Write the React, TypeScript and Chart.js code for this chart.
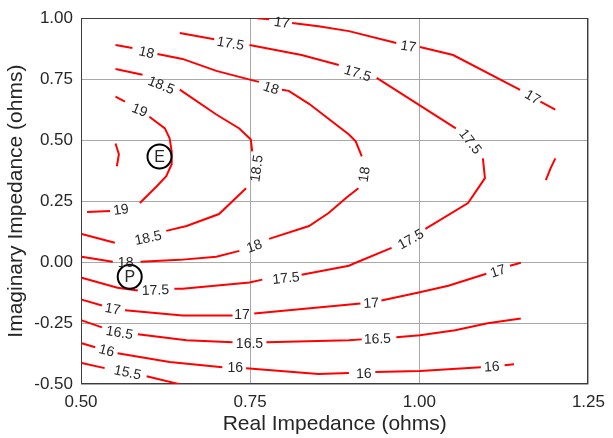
import React, { useEffect, useRef } from "react";
import { Chart, registerables } from "chart.js";
Chart.register(...registerables);

type Pt = [number, number];
type Seg = Pt[];
type Lbl = [string, number, number, number];

const FONT = '"Liberation Sans", Arial, Helvetica, sans-serif';
const TEXT = "#262626";

const xTicks = [0.5, 0.75, 1.0, 1.25];
const yTicks = [-0.5, -0.25, 0, 0.25, 0.5, 0.75, 1.0];

// contour level 17 (upper branch)
const c17Top: Seg[] = [
  [[0.760, 1.000], [0.778, 0.996]],
  [[0.812, 0.980], [0.851, 0.967], [0.896, 0.947], [0.966, 0.898]],
  [[1.001, 0.882], [1.050, 0.849], [1.149, 0.706]],
  [[1.179, 0.658], [1.201, 0.625]],
];
const l17Top: Lbl[] = [
  ["17", 0.797, 0.984, 8],
  ["17", 0.984, 0.886, 9],
  ["17", 1.168, 0.678, 30],
];

// contour level 17.5
const c17_5: Seg[] = [
  [[0.646, 0.939], [0.697, 0.914]],
  [[0.749, 0.890], [0.826, 0.849], [0.881, 0.808]],
  [[0.937, 0.755], [1.054, 0.548]],
  [[1.094, 0.425], [1.097, 0.344], [1.072, 0.242], [1.009, 0.136]],
  [[0.959, 0.058], [0.906, -0.003], [0.896, -0.015], [0.826, -0.052]],
  [[0.768, -0.072], [0.749, -0.084], [0.650, -0.109], [0.638, -0.109]],
  [[0.584, -0.117], [0.554, -0.105], [0.501, -0.064]],
];
const l17_5: Lbl[] = [
  ["17.5", 0.721, 0.898, 10],
  ["17.5", 0.909, 0.776, 17],
  ["17.5", 1.076, 0.495, 52],
  ["17.5", 0.987, 0.095, -29],
  ["17.5", 0.803, -0.064, -6],
  ["17.5", 0.610, -0.113, -2],
];

// contour level 18
const c18: Seg[] = [
  [[0.551, 0.890], [0.576, 0.878]],
  [[0.613, 0.853], [0.650, 0.833], [0.700, 0.784], [0.751, 0.747], [0.763, 0.739]],
  [[0.797, 0.707], [0.807, 0.702], [0.837, 0.649], [0.896, 0.523], [0.906, 0.495], [0.915, 0.433]],
  [[0.910, 0.303], [0.893, 0.266], [0.866, 0.201], [0.837, 0.148], [0.778, 0.095]],
  [[0.734, 0.046], [0.700, 0.022], [0.646, 0.009], [0.588, 0.001]],
  [[0.547, 0.001], [0.501, 0.022]],
];
const l18: Lbl[] = [
  ["18", 0.597, 0.861, 13],
  ["18", 0.781, 0.715, 18],
  ["18", 0.918, 0.360, -82],
  ["18", 0.756, 0.067, -20],
  ["18", 0.566, 0.001, 0],
];

// contour level 18.5
const c18_5: Seg[] = [
  [[0.551, 0.792], [0.591, 0.768]],
  [[0.646, 0.707], [0.700, 0.605], [0.734, 0.548], [0.751, 0.503], [0.753, 0.454]],
  [[0.744, 0.303], [0.704, 0.197], [0.656, 0.148], [0.626, 0.128]],
  [[0.550, 0.079], [0.501, 0.115]],
];
const l18_5: Lbl[] = [
  ["18.5", 0.619, 0.727, 22],
  ["18.5", 0.759, 0.384, -82],
  ["18.5", 0.599, 0.101, -12],
];

// contour level 19
const c19: Seg[] = [
  [[0.551, 0.678], [0.565, 0.658]],
  [[0.601, 0.596], [0.624, 0.548], [0.631, 0.507], [0.634, 0.454], [0.634, 0.401], [0.626, 0.352], [0.612, 0.311], [0.587, 0.242]],
  [[0.543, 0.209], [0.509, 0.205]],
];
const l19: Lbl[] = [
  ["19", 0.587, 0.625, 22],
  ["19", 0.559, 0.217, -8],
];

// small unlabeled contour pieces
const c19_5: Seg[] = [[[0.551, 0.486], [0.556, 0.442], [0.553, 0.393]]];
const cRight: Seg[] = [[[1.201, 0.425], [1.194, 0.384], [1.187, 0.336]]];

// contour level 17 (lower branch)
const c17Low: Seg[] = [
  [[0.501, -0.154], [0.531, -0.178]],
  [[0.565, -0.198], [0.650, -0.219], [0.724, -0.219]],
  [[0.756, -0.211], [0.866, -0.182], [0.913, -0.170]],
  [[0.944, -0.158], [0.999, -0.125], [1.043, -0.097], [1.099, -0.048]],
  [[1.134, -0.015], [1.150, -0.003]],
];
const l17Low: Lbl[] = [
  ["17", 0.547, -0.190, 10],
  ["17", 0.738, -0.215, 0],
  ["17", 0.929, -0.166, -4],
  ["17", 1.116, -0.035, -18],
];

// contour level 16.5
const c16_5: Seg[] = [
  [[0.501, -0.239], [0.531, -0.268]],
  [[0.584, -0.296], [0.656, -0.321], [0.724, -0.329]],
  [[0.774, -0.329], [0.896, -0.321], [0.915, -0.317]],
  [[0.966, -0.308], [1.001, -0.300], [1.053, -0.280], [1.101, -0.251], [1.150, -0.231]],
];
const l16_5: Lbl[] = [
  ["16.5", 0.557, -0.288, 10],
  ["16.5", 0.749, -0.333, 0],
  ["16.5", 0.938, -0.313, -2],
];

// contour level 16
const c16: Seg[] = [
  [[0.501, -0.333], [0.521, -0.349]],
  [[0.554, -0.374], [0.631, -0.410], [0.709, -0.431]],
  [[0.744, -0.435], [0.851, -0.459], [0.896, -0.455]],
  [[0.935, -0.451], [1.001, -0.447], [1.091, -0.431]],
  [[1.126, -0.423], [1.140, -0.419]],
];
const l16: Lbl[] = [
  ["16", 0.538, -0.361, 15],
  ["16", 0.728, -0.431, 0],
  ["16", 0.918, -0.455, -2],
  ["16", 1.107, -0.427, -3],
];

// contour level 15.5
const c15_5: Seg[] = [
  [[0.501, -0.414], [0.535, -0.435]],
  [[0.597, -0.468], [0.650, -0.504]],
];
const l15_5: Lbl[] = [["15.5", 0.569, -0.451, 12]];

// marked points
const markerNames = ["E", "P"];
const markerX = [0.616, 0.572];
const markerY = [0.433, -0.060];

const allContours: Seg[][] = [c17Top, c17_5, c18, c18_5, c19, c19_5, cRight, c17Low, c16_5, c16, c15_5];
const allLabels: Lbl[] = [...l17Top, ...l17_5, ...l18, ...l18_5, ...l19, ...l17Low, ...l16_5, ...l16, ...l15_5];

const framePlugin = {
  id: "frame",
  beforeDatasetsDraw(chart: any) {
    const { ctx, chartArea: a } = chart;
    ctx.save();
    ctx.strokeStyle = "#3c3c3c";
    ctx.lineWidth = 1;
    ctx.strokeRect(Math.round(a.left) + 0.5, Math.round(a.top) + 0.5, Math.round(a.right - a.left) - 1, Math.round(a.bottom - a.top) - 1);
    ctx.restore();
  },
};

const labelPlugin = {
  id: "contourLabels",
  afterDatasetsDraw(chart: any) {
    const { ctx } = chart;
    const xs = chart.scales.x;
    const ys = chart.scales.y;
    ctx.save();
    ctx.fillStyle = TEXT;
    ctx.textAlign = "center";
    ctx.textBaseline = "middle";
    ctx.font = `14px ${FONT}`;
    for (const [t, vx, vy, ang] of allLabels) {
      const px = xs.getPixelForValue(vx);
      const py = ys.getPixelForValue(vy);
      ctx.save();
      ctx.translate(px, py);
      ctx.rotate((ang * Math.PI) / 180);
      ctx.fillText(t, 0, 1);
      ctx.restore();
    }
    ctx.font = `16px ${FONT}`;
    markerNames.forEach((n, i) => {
      const px = xs.getPixelForValue(markerX[i]);
      const py = ys.getPixelForValue(markerY[i]);
      ctx.fillText(n, px, py + 1);
    });
    ctx.restore();
  },
};

export default function App() {
  const ref = useRef<HTMLCanvasElement>(null);
  useEffect(() => {
    document.body.style.margin = "0";
    const datasets: any[] = [];
    allContours.forEach((c) =>
      c.forEach((seg) =>
        datasets.push({
          type: "line",
          data: seg.map(([x, y]) => ({ x, y })),
          borderColor: "#ff0000",
          borderWidth: 2,
          pointRadius: 0,
          fill: false,
          tension: 0,
          order: 2,
        })
      )
    );
    datasets.push({
      type: "scatter",
      data: markerX.map((x, i) => ({ x, y: markerY[i] })),
      pointRadius: 12,
      pointBorderWidth: 2,
      pointBorderColor: "#000000",
      pointBackgroundColor: "#ffffff",
      showLine: false,
      order: 1,
    });
    const chart = new Chart(ref.current!, {
      type: "line",
      data: { datasets },
      plugins: [framePlugin, labelPlugin],
      options: {
        animation: false,
        responsive: false,
        devicePixelRatio: 1,
        layout: { padding: { top: 16, right: 21, left: 0, bottom: 0 } },
        plugins: { legend: { display: false }, tooltip: { enabled: false } },
        scales: {
          x: {
            type: "linear",
            min: 0.5,
            max: 1.25,
            afterBuildTicks: (s: any) => {
              s.ticks = xTicks.map((v) => ({ value: v }));
            },
            afterFit: (s: any) => {
              s.height = 54;
            },
            grid: { color: "#a8a8a8", drawTicks: false, lineWidth: 1 },
            border: { display: false },
            ticks: {
              color: TEXT,
              font: { size: 17, family: FONT },
              padding: 8,
              maxRotation: 0,
              callback: (v: any) => Number(v).toFixed(2),
            },
            title: {
              display: true,
              text: "Real Impedance (ohms)",
              color: TEXT,
              font: { size: 21, family: FONT },
              padding: { top: 0, bottom: 1 },
            },
          },
          y: {
            type: "linear",
            min: -0.5,
            max: 1.0,
            afterBuildTicks: (s: any) => {
              s.ticks = yTicks.map((v) => ({ value: v }));
            },
            afterFit: (s: any) => {
              s.width = 81;
            },
            grid: { color: "#a8a8a8", drawTicks: false, lineWidth: 1 },
            border: { display: false },
            ticks: {
              color: TEXT,
              font: { size: 17, family: FONT },
              padding: 8,
              callback: (v: any) => Number(v).toFixed(2),
            },
            title: {
              display: true,
              text: "Imaginary Impedance (ohms)",
              color: TEXT,
              font: { size: 21, family: FONT },
              padding: { top: 4, bottom: 0 },
            },
          },
        },
      } as any,
    });
    return () => chart.destroy();
  }, []);
  return (
    <div style={{ width: 613, height: 438 }}>
      <canvas ref={ref} width={613} height={438} style={{ display: "block" }} />
    </div>
  );
}
